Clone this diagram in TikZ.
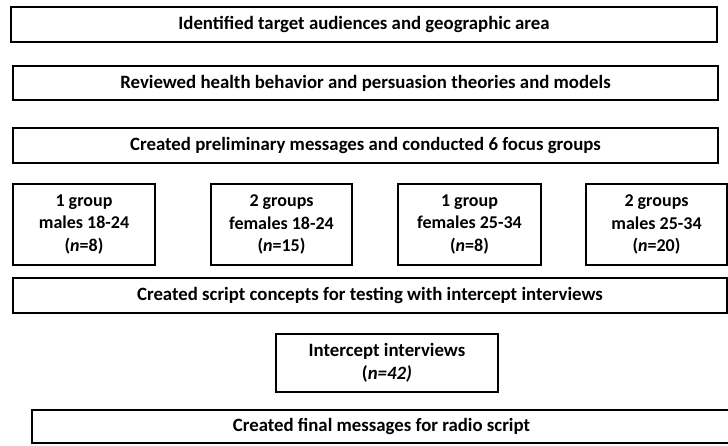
\documentclass[tikz,border=0pt]{standalone}
\usepackage{fontspec}
\setmainfont{Carlito}
\usepackage{tikz}
\usetikzlibrary{positioning}
\tikzset{
  box/.style={line width=1.4pt},
  boxtext/.style={font=\bfseries\fontsize{18.8}{22.5}\selectfont, align=center},
  grptext/.style={font=\bfseries\fontsize{18}{22.5}\selectfont, align=center}
}

\begin{document}
\begin{tikzpicture}[x=1pt,y=-1pt]
				\useasboundingbox (0,0) rectangle (728,445);
				\draw[box] (11,7) rectangle (717,42) node[midway,boxtext] (ident) {Identified target audiences and geographic area};
				\draw[box] (13,66) rectangle (718,100) node[midway,boxtext] (review) {Reviewed health behavior and persuasion theories and models};
				\draw[box] (13,128) rectangle (718,163) node[midway,boxtext] (prelim) {Created preliminary messages and conducted 6 focus groups};
				\draw[box] (13,184) rectangle (155,265) node[midway,grptext] (grpa) {1 group\\males 18-24\\(\textit{n}=8)};
				\draw[box] (211,184) rectangle (352,265) node[midway,grptext] (grpb) {2 groups\\females 18-24\\(\textit{n}=15)};
				\draw[box] (398,184) rectangle (541,265) node[midway,grptext] (grpc) {1 group\\females 25-34\\(\textit{n}=8)};
				\draw[box] (586,184) rectangle (727,265) node[midway,grptext] (grpd) {2 groups\\males 25-34\\(\textit{n}=20)};
				\draw[box] (13,278) rectangle (727,313) node[midway,boxtext] (concept) {Created script concepts for testing with intercept interviews};
				\draw[box] (276,334) rectangle (498,392) node[midway,boxtext] (intercept) {Intercept interviews\\(\textit{n=42)}};
				\draw[box] (32,410) rectangle (731,443) node[midway,boxtext] (final) {Created final messages for radio script};
\end{tikzpicture}
\end{document}
